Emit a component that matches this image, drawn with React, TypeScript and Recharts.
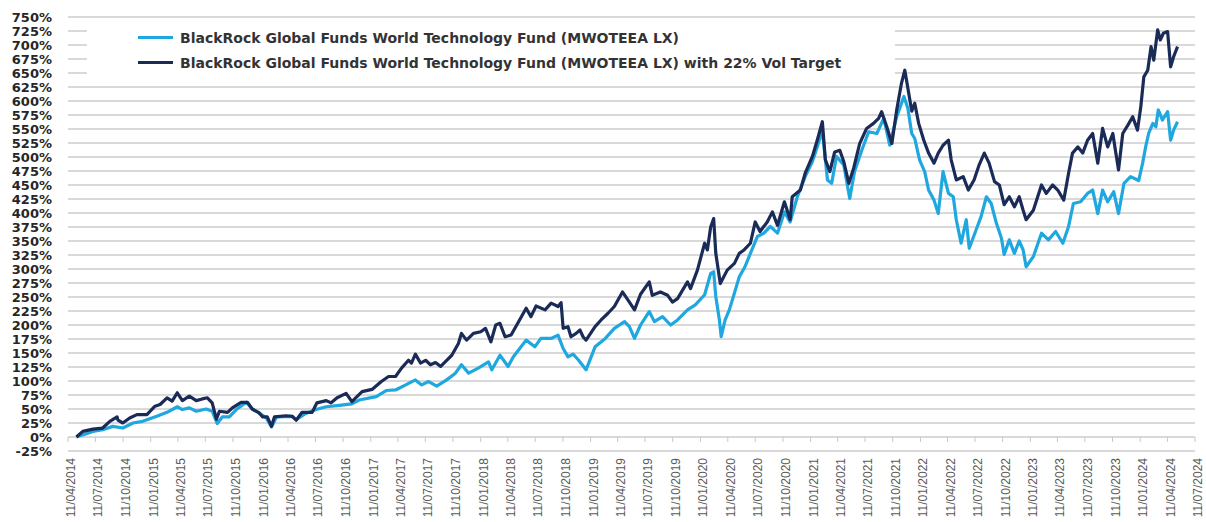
import React from 'react';
import { LineChart, Line, XAxis, YAxis, CartesianGrid, Legend } from 'recharts';

const FUND_NAME = 'BlackRock Global Funds World Technology Fund (MWOTEEA LX)';
const VOL_NAME = 'BlackRock Global Funds World Technology Fund (MWOTEEA LX) with 22% Vol Target';

const FUND_COLOR = '#1fa7df';
const VOL_COLOR = '#1b2b58';

// quarterly axis labels (dd/mm/yyyy)
const X_TICKS = [
  '11/04/2014', '11/07/2014', '11/10/2014', '11/01/2015', '11/04/2015', '11/07/2015', '11/10/2015',
  '11/01/2016', '11/04/2016', '11/07/2016', '11/10/2016', '11/01/2017', '11/04/2017', '11/07/2017',
  '11/10/2017', '11/01/2018', '11/04/2018', '11/07/2018', '11/10/2018', '11/01/2019', '11/04/2019',
  '11/07/2019', '11/10/2019', '11/01/2020', '11/04/2020', '11/07/2020', '11/10/2020', '11/01/2021',
  '11/04/2021', '11/07/2021', '11/10/2021', '11/01/2022', '11/04/2022', '11/07/2022', '11/10/2022',
  '11/01/2023', '11/04/2023', '11/07/2023', '11/10/2023', '11/01/2024', '11/04/2024', '11/07/2024',
];

const Y_TICKS = [
  -25, 0, 25, 50, 75, 100, 125, 150, 175, 200, 225, 250, 275, 300, 325, 350, 375,
  400, 425, 450, 475, 500, 525, 550, 575, 600, 625, 650, 675, 700, 725, 750,
];

// fund (light line)
const FUND_DATES = [
  '2014-05-09', '2014-07-03', '2014-08-04', '2014-09-07', '2014-10-10', '2014-11-13', '2014-12-15',
  '2015-01-31', '2015-03-06', '2015-04-09', '2015-04-26', '2015-05-19', '2015-06-11', '2015-07-14',
  '2015-08-03', '2015-08-20', '2015-09-06', '2015-09-29', '2015-10-22', '2015-11-25', '2015-12-14',
  '2016-01-06', '2016-01-30', '2016-02-16', '2016-03-04', '2016-04-25', '2016-05-08', '2016-06-09',
  '2016-07-13', '2016-08-16', '2016-09-21', '2016-11-09', '2016-12-03', '2017-01-29', '2017-03-03',
  '2017-04-03', '2017-05-07', '2017-06-08', '2017-06-29', '2017-07-22', '2017-08-18', '2017-09-20',
  '2017-10-19', '2017-11-08', '2017-12-02', '2018-01-03', '2018-02-06', '2018-02-17', '2018-03-16',
  '2018-04-12', '2018-04-29', '2018-05-25', '2018-06-11', '2018-07-10', '2018-07-30', '2018-09-02',
  '2018-09-25', '2018-10-12', '2018-10-28', '2018-11-14', '2018-12-01', '2018-12-27', '2019-01-26',
  '2019-03-01', '2019-03-31', '2019-05-04', '2019-05-20', '2019-06-06', '2019-06-26', '2019-07-25',
  '2019-08-11', '2019-09-07', '2019-10-04', '2019-10-27', '2019-11-29', '2019-12-25', '2020-01-25',
  '2020-02-14', '2020-02-24', '2020-03-02', '2020-03-14', '2020-03-20', '2020-04-02', '2020-04-16',
  '2020-05-03', '2020-05-19', '2020-06-07', '2020-06-25', '2020-07-18', '2020-08-09', '2020-08-30',
  '2020-09-23', '2020-10-16', '2020-11-04', '2020-11-28', '2020-12-24', '2021-01-17', '2021-02-02',
  '2021-02-19', '2021-03-08', '2021-03-22', '2021-04-07', '2021-05-01', '2021-05-21', '2021-06-06',
  '2021-06-30', '2021-07-23', '2021-08-19', '2021-09-11', '2021-10-01', '2021-10-24', '2021-11-17',
  '2021-11-30', '2021-12-13', '2021-12-23', '2022-01-08', '2022-01-25', '2022-02-07', '2022-02-25',
  '2022-03-11', '2022-03-27', '2022-04-14', '2022-04-30', '2022-05-10', '2022-05-26', '2022-06-12',
  '2022-06-22', '2022-07-15', '2022-07-31', '2022-08-18', '2022-09-03', '2022-09-20', '2022-10-07',
  '2022-10-16', '2022-11-02', '2022-11-19', '2022-12-05', '2022-12-18', '2022-12-28', '2023-01-21',
  '2023-02-17', '2023-03-12', '2023-04-05', '2023-04-29', '2023-05-18', '2023-06-03', '2023-06-27',
  '2023-07-20', '2023-08-06', '2023-08-23', '2023-09-08', '2023-09-25', '2023-10-15', '2023-10-31',
  '2023-11-18', '2023-12-10', '2024-01-06', '2024-01-19', '2024-01-29', '2024-02-08', '2024-02-22',
  '2024-03-03', '2024-03-11', '2024-03-25', '2024-04-11', '2024-04-21', '2024-05-01', '2024-05-14',
];
const FUND_VALUES = [
  0, 10, 13, 19, 16, 25, 28,
  37, 44, 54, 49, 52, 46, 50,
  46, 24, 36, 36, 49, 62, 50,
  43, 34, 18, 36, 37, 31, 42,
  49, 54, 56, 59, 66, 72, 83,
  84, 93, 102, 93, 99, 91, 102,
  114, 129, 114, 123, 134, 120, 146,
  126, 143, 161, 173, 161, 176, 176,
  182, 158, 143, 148, 138, 120, 161,
  176, 194, 206, 197, 176, 200, 224,
  206, 215, 200, 209, 227, 236, 254,
  292, 295, 251, 209, 179, 209, 227,
  257, 286, 304, 328, 358, 364, 376,
  364, 402, 384, 429, 465, 492, 518,
  548, 459, 453, 501, 486, 426, 474,
  512, 545, 542, 569, 521, 572, 608,
  587, 542, 533, 495, 474, 441, 423,
  399, 474, 435, 429, 388, 346, 388,
  337, 370, 393, 429, 417, 382, 355,
  326, 352, 328, 350, 334, 304, 322,
  364, 352, 367, 346, 376, 417, 420,
  435, 441, 399, 441, 420, 438, 399,
  453, 465, 458, 489, 518, 542, 560,
  554, 584, 566, 581, 530, 548, 563,
];

// fund with 22% vol target (dark line)
const VOL_DATES = [
  '2014-05-09', '2014-05-30', '2014-07-03', '2014-08-04', '2014-08-28', '2014-09-21', '2014-09-24',
  '2014-10-10', '2014-11-02', '2014-11-26', '2014-12-29', '2015-01-25', '2015-02-11', '2015-03-06',
  '2015-03-23', '2015-04-09', '2015-04-26', '2015-05-19', '2015-06-11', '2015-07-01', '2015-07-18',
  '2015-08-03', '2015-08-17', '2015-08-27', '2015-09-23', '2015-10-09', '2015-11-07', '2015-11-28',
  '2015-12-14', '2016-01-06', '2016-01-17', '2016-02-02', '2016-02-16', '2016-02-26', '2016-04-04',
  '2016-04-25', '2016-05-08', '2016-05-27', '2016-06-30', '2016-07-16', '2016-08-16', '2016-09-01',
  '2016-09-21', '2016-10-21', '2016-11-09', '2016-12-13', '2017-01-15', '2017-02-15', '2017-03-11',
  '2017-04-03', '2017-04-23', '2017-05-16', '2017-05-26', '2017-06-08', '2017-06-25', '2017-07-12',
  '2017-07-28', '2017-08-14', '2017-08-31', '2017-09-20', '2017-10-07', '2017-10-29', '2017-11-08',
  '2017-11-25', '2017-12-18', '2018-01-11', '2018-01-27', '2018-02-14', '2018-03-02', '2018-03-16',
  '2018-04-02', '2018-04-22', '2018-05-15', '2018-06-11', '2018-06-27', '2018-07-14', '2018-08-13',
  '2018-09-02', '2018-09-25', '2018-10-05', '2018-10-12', '2018-10-28', '2018-11-07', '2018-11-24',
  '2018-12-07', '2018-12-17', '2018-12-27', '2019-01-26', '2019-02-15', '2019-03-10', '2019-03-31',
  '2019-04-27', '2019-05-20', '2019-06-06', '2019-06-26', '2019-07-25', '2019-08-04', '2019-08-31',
  '2019-09-24', '2019-10-10', '2019-10-27', '2019-11-29', '2019-12-09', '2020-01-01', '2020-01-25',
  '2020-02-03', '2020-02-14', '2020-02-24', '2020-03-02', '2020-03-17', '2020-04-09', '2020-05-03',
  '2020-05-19', '2020-06-04', '2020-06-25', '2020-07-11', '2020-07-27', '2020-08-20', '2020-09-06',
  '2020-09-23', '2020-10-16', '2020-11-04', '2020-11-11', '2020-12-08', '2020-12-24', '2021-01-17',
  '2021-02-02', '2021-02-19', '2021-03-01', '2021-03-16', '2021-04-01', '2021-04-18', '2021-05-01',
  '2021-05-18', '2021-06-03', '2021-06-23', '2021-07-16', '2021-08-08', '2021-08-25', '2021-09-04',
  '2021-09-21', '2021-10-08', '2021-10-24', '2021-11-09', '2021-11-20', '2021-12-03', '2021-12-13',
  '2021-12-23', '2022-01-05', '2022-01-22', '2022-02-07', '2022-02-25', '2022-03-11', '2022-03-27',
  '2022-04-14', '2022-04-23', '2022-05-10', '2022-06-02', '2022-06-19', '2022-07-08', '2022-07-25',
  '2022-08-11', '2022-08-27', '2022-09-14', '2022-09-30', '2022-10-16', '2022-11-02', '2022-11-19',
  '2022-12-05', '2022-12-18', '2022-12-28', '2023-01-21', '2023-02-17', '2023-03-05', '2023-03-26',
  '2023-04-12', '2023-05-02', '2023-05-18', '2023-05-31', '2023-06-18', '2023-07-04', '2023-07-20',
  '2023-08-06', '2023-08-23', '2023-09-08', '2023-09-25', '2023-10-12', '2023-10-22', '2023-10-31',
  '2023-11-14', '2023-12-01', '2023-12-17', '2024-01-02', '2024-01-13', '2024-01-23', '2024-02-05',
  '2024-02-16', '2024-02-25', '2024-03-09', '2024-03-18', '2024-03-28', '2024-04-11', '2024-04-21',
  '2024-05-01', '2024-05-14',
];
const VOL_VALUES = [
  0, 10, 14, 16, 28, 36, 30,
  25, 34, 40, 40, 55, 58, 70,
  64, 79, 65, 73, 65, 68, 70,
  61, 32, 46, 44, 52, 62, 62,
  50, 43, 36, 36, 19, 36, 38,
  37, 30, 44, 44, 61, 65, 61,
  70, 78, 63, 81, 85, 99, 108,
  108, 123, 137, 132, 148, 132, 137,
  129, 133, 126, 137, 146, 167, 185,
  173, 185, 188, 194, 170, 200, 203,
  179, 182, 204, 230, 215, 234, 227,
  239, 233, 240, 194, 197, 179, 185,
  191, 179, 173, 197, 209, 221, 233,
  259, 241, 227, 255, 277, 253, 259,
  253, 241, 247, 277, 265, 298, 346,
  334, 375, 390, 328, 274, 298, 310,
  328, 334, 346, 384, 367, 384, 402,
  378, 420, 388, 429, 441, 471, 501,
  530, 563, 495, 474, 509, 512, 492,
  453, 480, 524, 551, 560, 569, 581,
  554, 524, 584, 632, 655, 614, 582,
  596, 560, 530, 507, 489, 507, 521,
  530, 495, 459, 465, 441, 459, 486,
  507, 489, 456, 450, 415, 429, 411,
  429, 405, 388, 405, 450, 435, 450,
  441, 423, 471, 507, 518, 507, 530,
  542, 489, 551, 518, 542, 507, 477,
  542, 557, 572, 548, 590, 643, 655,
  697, 673, 727, 709, 721, 724, 661,
  679, 697,
];

const parseIso = (s: string) => {
  const [y, m, d] = s.split('-').map(Number);
  return Date.UTC(y, m - 1, d);
};
const parseDmy = (s: string) => {
  const [d, m, y] = s.split('/').map(Number);
  return Date.UTC(y, m - 1, d);
};

const fundData = FUND_DATES.map((d, i) => ({ t: parseIso(d), v: FUND_VALUES[i] }));
const volData = VOL_DATES.map((d, i) => ({ t: parseIso(d), v: VOL_VALUES[i] }));
const xTickValues = X_TICKS.map(parseDmy);
const labelByTime: Record<number, string> = {};
X_TICKS.forEach((s, i) => (labelByTime[xTickValues[i]] = s));

const WIDTH = 1206;
const HEIGHT = 522;
const MARGIN = { top: 17, right: 11, bottom: 0, left: 0 };
const Y_AXIS_W = 68;
const X_AXIS_H = 71;
const Y_MIN = -25;
const Y_MAX = 750;
const PLOT_H = HEIGHT - MARGIN.top - MARGIN.bottom - X_AXIS_H;
// distance from the bottom of the plot up to the 0% line, where the tick marks sit
const ZERO_OFFSET = (PLOT_H * (0 - Y_MIN)) / (Y_MAX - Y_MIN);

const XTick = (props: any) => {
  const { x, y, payload } = props;
  const label = labelByTime[payload.value] ?? '';
  return (
    <g>
      <line x1={x} x2={x} y1={y - ZERO_OFFSET} y2={y - ZERO_OFFSET + 5} stroke="#c8c8c8" strokeWidth={1} />
      <text
        transform={`translate(${x + 7},${y + 7}) rotate(-90)`}
        textAnchor="end"
        fill="#595959"
        fontSize={12}
        fontFamily="'Liberation Sans', Arial, sans-serif"
      >
        {label}
      </text>
    </g>
  );
};

const LegendBox = () => {
  const items = [
    { name: FUND_NAME, color: FUND_COLOR },
    { name: VOL_NAME, color: VOL_COLOR },
  ];
  return (
    <div style={{ background: '#fff', width: 808, height: 56, boxSizing: 'border-box', paddingTop: 3 }}>
      {items.map((it) => (
        <div key={it.name} style={{ display: 'flex', alignItems: 'center', height: 25, paddingLeft: 51 }}>
          <div style={{ width: 35, height: 3, background: it.color, marginRight: 7 }} />
          <span
            style={{
              fontFamily: "'DejaVu Sans', sans-serif",
              fontWeight: 700,
              fontSize: 14,
              color: '#333333',
              whiteSpace: 'nowrap',
            }}
          >
            {it.name}
          </span>
        </div>
      ))}
    </div>
  );
};

export default function App() {
  return (
    <div style={{ position: 'absolute', left: 0, top: 0, width: WIDTH, height: HEIGHT, background: '#fff' }}>
      <LineChart width={WIDTH} height={HEIGHT} margin={MARGIN}>
        <CartesianGrid vertical={false} stroke="#d9d9d9" strokeWidth={2} />
        <XAxis
          type="number"
          dataKey="t"
          scale="time"
          domain={[xTickValues[0], xTickValues[xTickValues.length - 1]]}
          ticks={xTickValues}
          interval={0}
          height={X_AXIS_H}
          axisLine={false}
          tickLine={false}
          tickSize={0}
          tickMargin={0}
          tick={<XTick />}
          allowDuplicatedCategory={false}
        />
        <YAxis
          type="number"
          domain={[Y_MIN, Y_MAX]}
          ticks={Y_TICKS}
          interval={0}
          width={Y_AXIS_W}
          axisLine={false}
          tickLine={false}
          tickSize={0}
          tickMargin={16}
          tickFormatter={(v: number) => `${v}%`}
          tick={{ fill: '#262626', fontSize: 13, fontWeight: 700, fontFamily: "'DejaVu Sans', sans-serif" }}
        />
        <Legend
          layout="vertical"
          verticalAlign="middle"
          align="center"
          wrapperStyle={{ top: 22, left: 87, width: 808, height: 56 }}
          content={<LegendBox />}
        />
        <Line
          data={fundData}
          dataKey="v"
          name={FUND_NAME}
          type="linear"
          stroke={FUND_COLOR}
          strokeWidth={3.2}
          strokeLinejoin="round"
          dot={false}
          isAnimationActive={false}
        />
        <Line
          data={volData}
          dataKey="v"
          name={VOL_NAME}
          type="linear"
          stroke={VOL_COLOR}
          strokeWidth={3.2}
          strokeLinejoin="round"
          dot={false}
          isAnimationActive={false}
        />
      </LineChart>
    </div>
  );
}
